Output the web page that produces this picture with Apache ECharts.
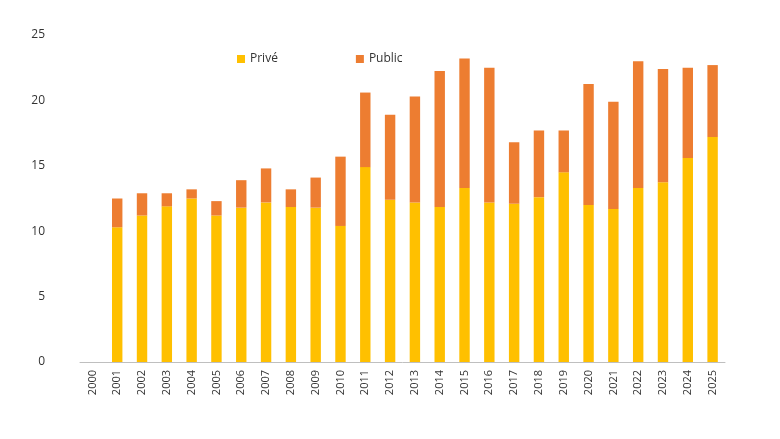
<!DOCTYPE html>
<html><head><meta charset="utf-8">
<script src="https://cdn.jsdelivr.net/npm/echarts@6/dist/echarts.min.js"></script>
<style>body{margin:0}#main{width:780px;height:439px}</style>
</head><body><div id="main"></div>
<script>
var years = ['2000','2001','2002','2003','2004','2005','2006','2007','2008','2009','2010','2011','2012','2013','2014','2015','2016','2017','2018','2019','2020','2021','2022','2023','2024','2025'];
var prive = [0, 10.3, 11.2, 11.9, 12.5, 11.2, 11.8, 12.2, 11.85, 11.8, 10.4, 14.9, 12.4, 12.2, 11.85, 13.3, 12.2, 12.1, 12.6, 14.5, 12.0, 11.7, 13.3, 13.75, 15.6, 17.2];
var public_ = [0, 2.2, 1.7, 1.0, 0.7, 1.1, 2.1, 2.6, 1.35, 2.3, 5.3, 5.7, 6.5, 8.1, 10.4, 9.9, 10.3, 4.7, 5.1, 3.2, 9.25, 8.2, 9.7, 8.65, 6.9, 5.5];
var yTicks = [0, 5, 10, 15, 20, 25];

var chart = echarts.init(document.getElementById('main'));
chart.setOption({
    animation: false,
    textStyle: {fontFamily: 'Open Sans', color: '#333'},
    legend: {
        top: 48, left: 232, itemGap: 78, itemWidth: 8, itemHeight: 8,
        icon: 'rect', textStyle: {fontSize: 12, color: '#333'},
        data: ['Privé', 'Public']
    },
    grid: {left: 80, right: 55, top: 35, bottom: 77},
    xAxis: {
        type: 'category', data: years,
        axisLine: {lineStyle: {color: '#bfbfbf'}},
        axisTick: {show: false},
        axisLabel: {rotate: 90, color: '#333', fontSize: 11, interval: 0}
    },
    yAxis: {
        type: 'value', min: 0, max: 25, interval: 5,
        splitLine: {show: false},
        axisLabel: {color: '#333', fontSize: 12, margin: 35}
    },
    series: [
        {name: 'Privé', type: 'bar', stack: 't', barWidth: '42%', data: prive, itemStyle: {color: '#FFC000'}},
        {name: 'Public', type: 'bar', stack: 't', data: public_, itemStyle: {color: '#ED7D31'}}
    ]
});
</script></body></html>
